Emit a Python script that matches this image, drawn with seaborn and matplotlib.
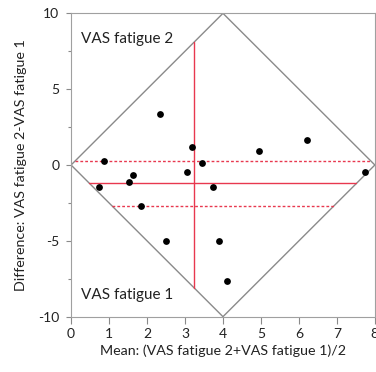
import matplotlib
matplotlib.use("Agg")
import matplotlib.pyplot as plt
import seaborn as sns
import numpy as np
import pandas as pd

# Bland-Altman style comparison of the two VAS fatigue ratings
mean_vals = [0.88, 2.34, 3.19, 3.45, 3.04, 1.64, 4.96, 6.20, 7.75,
             1.53, 0.74, 3.75, 1.83, 2.49, 3.89, 4.10]
diff_vals = [0.24, 3.34, 1.21, 0.13, -0.48, -0.68, 0.92, 1.63, -0.48,
             -1.10, -1.47, -1.47, -2.68, -5.01, -5.01, -7.63]

mean_of_means = 3.245
mean_diff = -1.21
ci_upper = 0.24
ci_lower = -2.68

x_ticks = [0, 1, 2, 3, 4, 5, 6, 7, 8]
y_ticks = [-10, -5, 0, 5, 10]
scale_max = 8
diff_max = 10

df = pd.DataFrame({"mean": mean_vals, "diff": diff_vals})

sns.set_style("white")
plt.rcParams["font.family"] = ["Lato", "DejaVu Sans"]

fig = plt.figure(figsize=(3.76, 3.72), dpi=100)
ax = fig.add_axes([0.189, 0.1487, 0.808, 0.8155])

red = "#E8384F"
grey = "#8a8a8a"
txt = "#222222"
slope = diff_max / (scale_max / 2)


def half_width(y):
    # x-extent of the diamond at difference y
    return abs(y) / slope


# Diamond showing the feasible region
ax.plot([0, scale_max / 2, scale_max, scale_max / 2, 0],
        [0, diff_max, 0, -diff_max, 0], color=grey, lw=1.0, zorder=1)

# Mean difference and its confidence limits
ax.plot([half_width(mean_diff), scale_max - half_width(mean_diff)],
        [mean_diff, mean_diff], color=red, lw=1.0, zorder=2)
for ci in (ci_upper, ci_lower):
    ax.plot([half_width(ci), scale_max - half_width(ci)], [ci, ci],
            color=red, lw=1.0, ls=(0, (2, 1.5)), zorder=2)

# Mean of means vertical
vh = slope * min(mean_of_means, scale_max - mean_of_means)
ax.plot([mean_of_means, mean_of_means], [-vh, vh], color=red, lw=1.0, zorder=2)

sns.scatterplot(data=df, x="mean", y="diff", ax=ax, color="black",
                s=24, edgecolor="black", linewidth=0, zorder=3)

ax.text(0.27, 8.3, "VAS fatigue 2", fontsize=11, color=txt,
        ha="left", va="center")
ax.text(0.27, -8.6, "VAS fatigue 1", fontsize=11, color=txt,
        ha="left", va="center")

ax.set_xlim(0, scale_max)
ax.set_ylim(-diff_max, diff_max)
ax.set_xticks(x_ticks)
ax.set_yticks(y_ticks)
ax.set_yticks([-7.5, -2.5, 2.5, 7.5], minor=True)
ax.set_xticklabels([str(t) for t in x_ticks])
ax.set_yticklabels([str(t) for t in y_ticks])

ax.tick_params(axis="both", which="major", direction="out",
               width=0.8, color=grey, labelsize=10, labelcolor=txt)
ax.tick_params(axis="x", which="major", length=5, pad=3, bottom=True)
ax.tick_params(axis="y", which="major", length=3.5, pad=5, left=True)
ax.tick_params(axis="y", which="minor", direction="out", length=2,
               width=0.8, color=grey, left=True)

for side in ["left", "bottom", "top", "right"]:
    ax.spines[side].set_color("#a0a0a0")
    ax.spines[side].set_linewidth(0.8)

ax.set_xlabel("Mean: (VAS fatigue 2+VAS fatigue 1)/2", fontsize=10.3,
              color=txt, labelpad=3)
ax.set_ylabel("Difference: VAS fatigue 2-VAS fatigue 1", fontsize=10.3,
              color=txt, labelpad=8)

fig.savefig("out.png", dpi=100)
